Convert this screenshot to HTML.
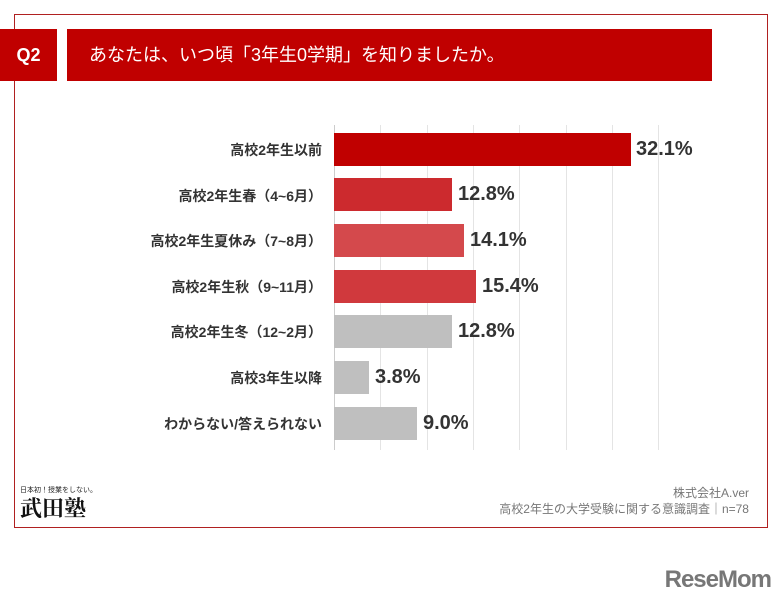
<html><head><style>
body{margin:0;width:783px;height:601px;background:#fff;position:relative;font-family:"Liberation Sans","Noto Sans CJK JP",sans-serif;overflow:hidden}
.a{position:absolute}
.lab{position:absolute;right:461px;font-size:14px;font-weight:bold;color:#333;white-space:nowrap}
.bar{position:absolute;left:334px;height:33px}
.val{position:absolute;font-size:20px;font-weight:bold;color:#333;margin-top:1px}
.g{position:absolute;top:125px;height:325px;width:1px;background:#e4e4e4}
</style></head><body>
<div class="a" style="left:14px;top:14px;width:752px;height:512px;border:1px solid #b02020"></div>
<div class="a" style="left:0;top:29px;width:57px;height:52px;background:#c00000;color:#fff;font-size:18px;font-weight:bold;line-height:52px;text-align:center">Q2</div>
<div class="a" style="left:67px;top:29px;width:645px;height:52px;background:#c00000;color:#fff;font-size:18px;line-height:52px;padding-left:22px;box-sizing:border-box">あなたは、いつ頃「3年生0学期」を知りましたか。</div>
<div class="g" style="left:380px"></div><div class="g" style="left:427px"></div><div class="g" style="left:473px"></div><div class="g" style="left:519px"></div><div class="g" style="left:566px"></div><div class="g" style="left:612px"></div><div class="g" style="left:658px"></div>
<div class="a" style="left:334px;top:125px;width:1px;height:325px;background:#ccc"></div>

<div class="lab" style="top:140px">高校2年生以前</div>
<div class="bar" style="top:133px;width:297px;background:#c00000"></div>
<div class="val" style="left:636px;top:137px">32.1%</div>

<div class="lab" style="top:186px">高校2年生春（4~6月）</div>
<div class="bar" style="top:178px;width:118px;background:#cc2a2e"></div>
<div class="val" style="left:458px;top:182px">12.8%</div>

<div class="lab" style="top:231px">高校2年生夏休み（7~8月）</div>
<div class="bar" style="top:224px;width:130px;background:#d4494c"></div>
<div class="val" style="left:470px;top:228px">14.1%</div>

<div class="lab" style="top:277px">高校2年生秋（9~11月）</div>
<div class="bar" style="top:270px;width:142px;background:#d0393d"></div>
<div class="val" style="left:482px;top:274px">15.4%</div>

<div class="lab" style="top:322px">高校2年生冬（12~2月）</div>
<div class="bar" style="top:315px;width:118px;background:#bfbfbf"></div>
<div class="val" style="left:458px;top:319px">12.8%</div>

<div class="lab" style="top:368px">高校3年生以降</div>
<div class="bar" style="top:361px;width:35px;background:#bfbfbf"></div>
<div class="val" style="left:375px;top:365px">3.8%</div>

<div class="lab" style="top:414px">わからない/答えられない</div>
<div class="bar" style="top:407px;width:83px;background:#bfbfbf"></div>
<div class="val" style="left:423px;top:411px">9.0%</div>

<div class="a" style="left:20px;top:485px;font-size:7px;color:#222">日本初！授業をしない。</div>
<div class="a" style="left:20px;top:492px;font-size:22px;font-weight:bold;color:#111;font-family:'Noto Serif CJK SC',serif">武田塾</div>
<div class="a" style="right:34px;top:485px;font-size:12px;color:#777;text-align:right;line-height:16px">株式会社A.ver<br>高校2年生の大学受験に関する意識調査｜n=78</div>
<div class="a" style="right:12px;top:566px;font-size:24px;font-weight:bold;color:#777;letter-spacing:-1px">ReseMom</div>
</body></html>
